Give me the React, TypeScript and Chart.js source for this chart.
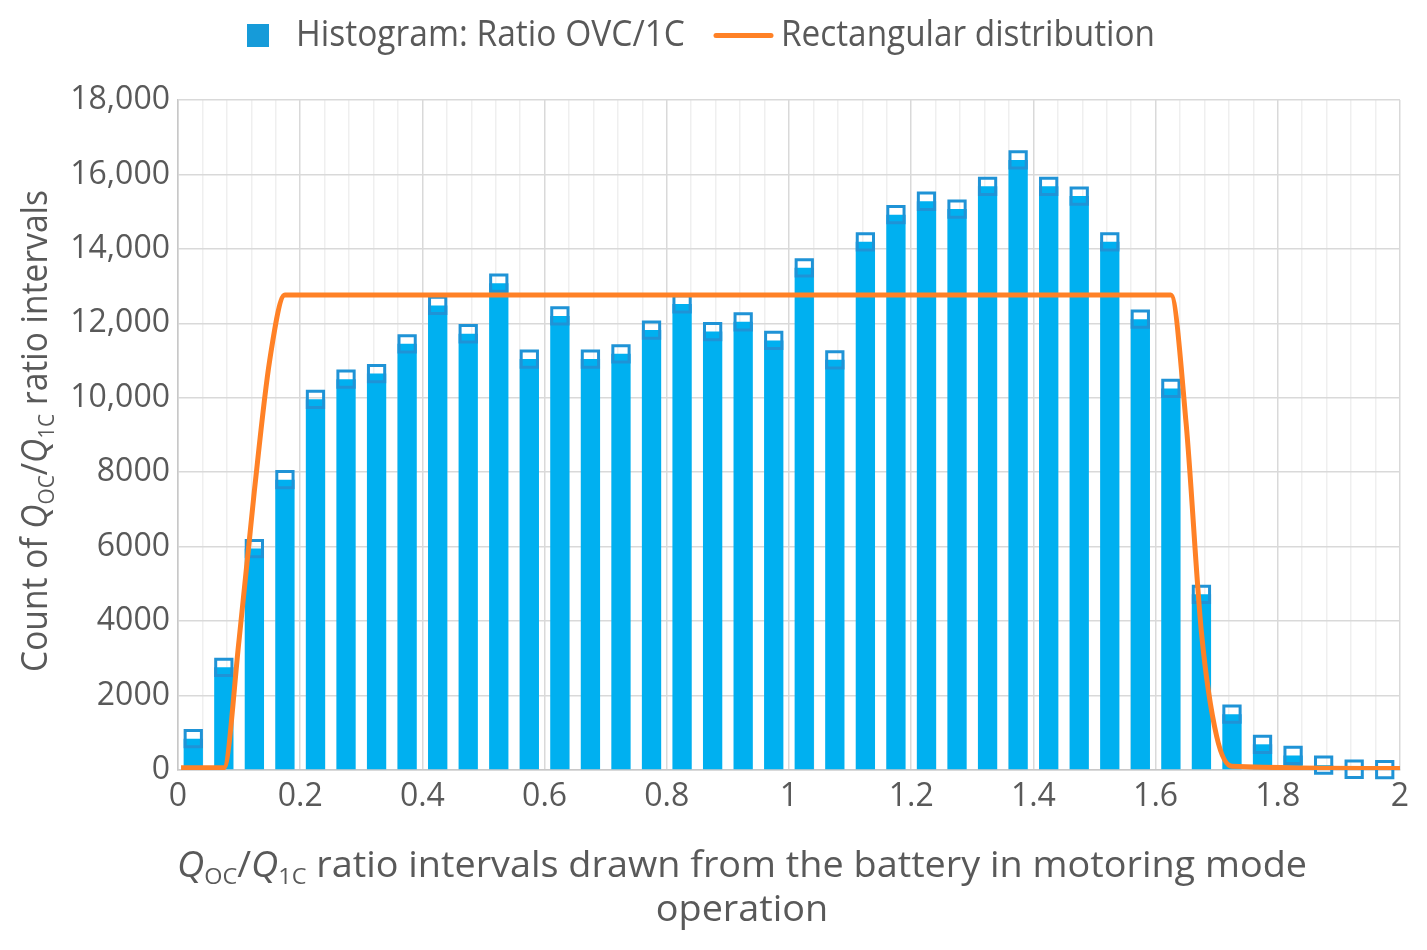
import React, { useEffect, useRef } from 'react';
import Chart from 'chart.js/auto';

// histogram bins (centre of each 0.05 wide interval)
const binCenters = [
  0.025, 0.075, 0.125, 0.175, 0.225, 0.275, 0.325, 0.375, 0.425, 0.475,
  0.525, 0.575, 0.625, 0.675, 0.725, 0.775, 0.825, 0.875, 0.925, 0.975,
  1.025, 1.075, 1.125, 1.175, 1.225, 1.275, 1.325, 1.375, 1.425, 1.475,
  1.525, 1.575, 1.625, 1.675, 1.725, 1.775, 1.825, 1.875, 1.925, 1.975,
];
const binCounts = [
  840, 2760, 5950, 7800, 9960, 10500, 10650, 11450, 12480, 11720,
  13080, 11040, 12200, 11040, 11180, 11820, 12520, 11780, 12040, 11540,
  13490, 11020, 14190, 14920, 15280, 15070, 15680, 16390, 15680, 15420,
  14190, 12110, 10250, 4720, 1500, 690, 390, 130, 20, 10,
];

// rectangular distribution curve
const rectX = [0.005, 0.075, 0.1, 0.125, 0.15, 0.175, 1.625, 1.65, 1.675, 1.7, 1.725, 2.0];
const rectY = [60, 60, 3500, 7500, 11000, 12760, 12760, 9300, 3700, 900, 100, 40];

const xMin = 0;
const xMax = 2;
const xMinorStep = 0.04;
const xMajorStep = 0.2;
const yMax = 18000;
const yStep = 2000;

const histLabel = 'Histogram: Ratio OVC/1C';
const rectLabel = 'Rectangular distribution';

const TEXT = '#595959';
const BAR = '#00b0f0';
const MARKER = '#1f93d6';
const ORANGE = '#ff8126';
const FONT = "'Liberation Sans Narrow', 'Open Sans', sans-serif";
const TICK_FONT = "'Open Sans', sans-serif";

type Seg = { t: string; i?: boolean; sub?: boolean };

const yTitle: Seg[] = [
  { t: 'Count of ' }, { t: 'Q', i: true }, { t: 'OC', sub: true }, { t: '/' },
  { t: 'Q', i: true }, { t: '1C', sub: true }, { t: ' ratio intervals' },
];
const xTitle1: Seg[] = [
  { t: 'Q', i: true }, { t: 'OC', sub: true }, { t: '/' }, { t: 'Q', i: true },
  { t: '1C', sub: true }, { t: ' ratio intervals drawn from the battery in motoring mode' },
];
const xTitle2: Seg[] = [{ t: 'operation' }];

const isMajor = (v: number) => Math.abs(v / xMajorStep - Math.round(v / xMajorStep)) < 1e-6;

function segFont(s: Seg, size: number) {
  const px = s.sub ? size * 0.62 : size;
  return `${s.i ? 'italic ' : ''}${px}px ${FONT}`;
}

function measureRich(ctx: CanvasRenderingContext2D, segs: Seg[], size: number) {
  let w = 0;
  for (const s of segs) {
    ctx.font = segFont(s, size);
    w += ctx.measureText(s.t).width;
  }
  return w;
}

// draws segments centred on cx, squeezed horizontally by sx
function drawRich(ctx: CanvasRenderingContext2D, segs: Seg[], size: number, cx: number, base: number, sx: number) {
  const w = measureRich(ctx, segs, size);
  ctx.save();
  ctx.translate(cx, base);
  ctx.scale(sx, 1);
  ctx.textAlign = 'left';
  ctx.textBaseline = 'alphabetic';
  ctx.fillStyle = TEXT;
  let x = -w / 2;
  for (const s of segs) {
    ctx.font = segFont(s, size);
    ctx.fillText(s.t, x, s.sub ? size * 0.2 : 0);
    x += ctx.measureText(s.t).width;
  }
  ctx.restore();
}

const titlesPlugin = {
  id: 'titlesAndLegend',
  afterDraw(chart: Chart) {
    const ctx = chart.ctx;
    const size = 36;

    // legend
    ctx.save();
    ctx.fillStyle = '#169bd9';
    ctx.fillRect(247, 24, 22, 23);
    ctx.strokeStyle = ORANGE;
    ctx.lineWidth = 5;
    ctx.lineCap = 'round';
    ctx.beginPath();
    ctx.moveTo(716, 35.5);
    ctx.lineTo(771, 35.5);
    ctx.stroke();
    ctx.restore();
    const l1 = [{ t: histLabel }];
    const l2 = [{ t: rectLabel }];
    const w1 = measureRich(ctx, l1, size);
    const w2 = measureRich(ctx, l2, size);
    drawRich(ctx, l1, size, 296 + 389 / 2, 46, 389 / w1);
    drawRich(ctx, l2, size, 781 + 374 / 2, 46, 374 / w2);

    // x axis title
    const wx = measureRich(ctx, xTitle1, size);
    const sx = 1130 / wx;
    drawRich(ctx, xTitle1, size, 742, 877, sx);
    drawRich(ctx, xTitle2, size, 742, 921, sx);

    // y axis title
    const wy = measureRich(ctx, yTitle, size);
    ctx.save();
    ctx.translate(47, 431);
    ctx.rotate(-Math.PI / 2);
    drawRich(ctx, yTitle, size, 0, 0, 482 / wy);
    ctx.restore();
  },
};

const App: React.FC = () => {
  const canvasRef = useRef<HTMLCanvasElement>(null);

  useEffect(() => {
    document.body.style.margin = '0';
    if (!canvasRef.current) return;

    const barPoints = binCenters.map((x, i) => ({ x, y: binCounts[i] }));
    const curvePoints = rectX.map((x, i) => ({ x, y: rectY[i] }));

    const chart = new Chart(canvasRef.current, {
      type: 'bar',
      data: {
        datasets: [
          {
            type: 'line',
            label: rectLabel,
            data: curvePoints,
            borderColor: ORANGE,
            borderWidth: 5,
            pointRadius: 0,
            cubicInterpolationMode: 'monotone',
            order: 0,
          },
          {
            type: 'line',
            label: 'markers',
            data: barPoints,
            showLine: false,
            clip: false,
            pointStyle: 'rect',
            pointRadius: 11.5,
            pointBorderWidth: 3,
            pointBorderColor: MARKER,
            pointBackgroundColor: 'rgba(0,0,0,0)',
            order: 1,
          },
          {
            type: 'bar',
            label: histLabel,
            data: barPoints,
            backgroundColor: BAR,
            borderWidth: 0,
            // the ruler's min spacing is the 0.04 tick step, not the 0.05 bin width
            categoryPercentage: 1,
            barPercentage: 0.79,
            order: 2,
          },
        ],
      },
      options: {
        animation: false,
        responsive: true,
        maintainAspectRatio: false,
        layout: { padding: { top: 100, right: 27, bottom: 0, left: 0 } },
        plugins: {
          legend: { display: false },
          tooltip: { enabled: false },
        },
        scales: {
          x: {
            type: 'linear',
            min: xMin,
            max: xMax,
            offset: false,
            afterFit: (scale: any) => {
              scale.height = 180;
            },
            grid: {
              offset: false,
              drawTicks: false,
              lineWidth: 1.5,
              color: (c: any) => (c.tick && isMajor(c.tick.value) ? '#d9d9d9' : '#efefef'),
            },
            border: { color: '#c8c8c8', width: 1.5 },
            ticks: {
              stepSize: xMinorStep,
              autoSkip: false,
              maxRotation: 0,
              minRotation: 0,
              padding: 8,
              color: TEXT,
              font: { family: TICK_FONT, size: 32 },
              callback: (v: any) => (isMajor(Number(v)) ? String(Math.round(Number(v) * 10) / 10) : ''),
            },
          },
          y: {
            min: 0,
            max: yMax,
            afterFit: (scale: any) => {
              scale.width = 178;
            },
            grid: { color: '#d9d9d9', lineWidth: 1.5, drawTicks: false },
            border: { color: '#c8c8c8', width: 1.5 },
            ticks: {
              stepSize: yStep,
              padding: 8,
              color: TEXT,
              font: { family: TICK_FONT, size: 32 },
              callback: (v: any) => {
                const n = Number(v);
                return n >= 10000 ? n.toLocaleString('en-US') : String(n);
              },
            },
          },
        },
      },
      plugins: [titlesPlugin],
    });

    return () => {
      chart.destroy();
    };
  }, []);

  return (
    <div style={{ position: 'absolute', left: 0, top: 0, width: 1427, height: 950, background: '#fff' }}>
      <canvas ref={canvasRef} />
    </div>
  );
};

export default App;
